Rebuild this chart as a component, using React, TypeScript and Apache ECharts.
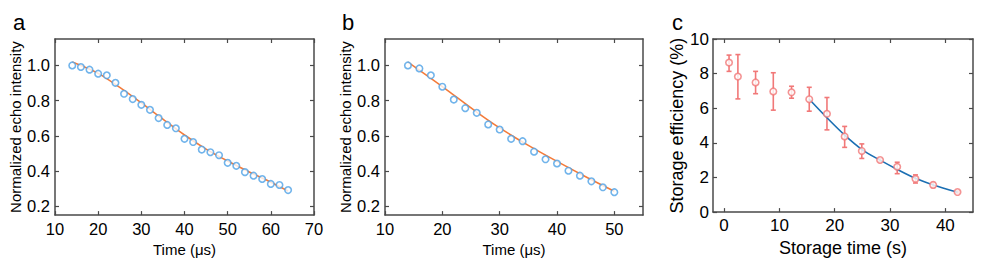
import React, { useEffect, useRef } from "react";
import * as echarts from "echarts";

// Panel a
const aTime = [14, 16, 18, 20, 22, 24, 26, 28, 30, 32, 34, 36, 38, 40, 42, 44, 46, 48, 50, 52, 54, 56, 58, 60, 62, 64];
const aEcho = [1.0, 0.991, 0.976, 0.953, 0.944, 0.901, 0.839, 0.809, 0.776, 0.748, 0.701, 0.662, 0.643, 0.583, 0.565, 0.522, 0.507, 0.49, 0.447, 0.43, 0.394, 0.374, 0.355, 0.327, 0.321, 0.292];
const aFitTime = [14, 20, 25, 30, 35, 40, 45, 50, 55, 60, 64];
const aFit = [1.019, 0.955, 0.875, 0.787, 0.695, 0.605, 0.525, 0.457, 0.395, 0.337, 0.287];

// Panel b
const bTime = [14, 16, 18, 20, 22, 24, 26, 28, 30, 32, 34, 36, 38, 40, 42, 44, 46, 48, 50];
const bEcho = [1.0, 0.983, 0.944, 0.879, 0.806, 0.757, 0.731, 0.665, 0.636, 0.583, 0.57, 0.51, 0.467, 0.443, 0.402, 0.374, 0.342, 0.308, 0.28];
const bFitTime = [14, 20, 26, 30, 35, 40, 45, 50];
const bFit = [1.019, 0.88, 0.735, 0.645, 0.546, 0.455, 0.368, 0.285];

// Panel c
const cTime = [0.9, 2.5, 5.7, 8.9, 12.2, 15.4, 18.6, 21.8, 24.9, 28.2, 31.3, 34.6, 37.8, 42.2];
const cEff = [8.64, 7.83, 7.49, 6.97, 6.92, 6.52, 5.68, 4.37, 3.53, 3.01, 2.62, 1.92, 1.57, 1.16];
const cErrLow = [8.13, 6.54, 6.84, 5.89, 6.58, 5.83, 4.75, 3.74, 3.1, 2.93, 2.22, 1.68, 1.42, 1.1];
const cErrHigh = [9.07, 9.1, 8.13, 8.05, 7.27, 7.21, 6.62, 4.95, 3.94, 3.09, 2.88, 2.15, 1.71, 1.22];
const cFitTime = [15.4, 18.6, 21.8, 25.0, 28.2, 31.4, 34.6, 37.8, 42.2];
const cFit = [6.52, 5.45, 4.45, 3.6, 3.0, 2.45, 1.95, 1.57, 1.15];

// Ticks
const echoTicks = [0.2, 0.4, 0.6, 0.8, 1.0];
const aTimeTicks = [10, 20, 30, 40, 50, 60, 70];
const bTimeTicks = [10, 20, 30, 40, 50];
const cTimeTicks = [0, 10, 20, 30, 40];
const cEffTicks = [0, 2, 4, 6, 8, 10];

const FONT = "'Liberation Sans', Arial, sans-serif";
const AXIS_COLOR = "#4a4a4a";
const BLUE_PT = "#4ea1e6";
const ORANGE = "#f47b3a";
const RED = "#f17878";
const BLUE_LINE = "#1b6fb3";

function axisPair(kind: "x" | "y", grid: number, min: number, max: number, ticks: number[], opts: any) {
  const line = { show: true, onZero: false, lineStyle: { color: AXIS_COLOR, width: 1.5 } };
  const tick = { show: true, inside: true, length: 4, customValues: ticks, lineStyle: { color: AXIS_COLOR, width: 1.2 } };
  const main = {
    type: "value",
    gridIndex: grid,
    min,
    max,
    position: kind === "x" ? "bottom" : "left",
    splitLine: { show: false },
    axisLine: line,
    axisTick: tick,
    axisLabel: {
      show: true,
      customValues: ticks,
      color: "#000",
      fontFamily: FONT,
      fontSize: opts.labelSize,
      margin: opts.labelMargin,
      formatter: opts.formatter,
    },
    name: opts.name,
    nameLocation: "middle",
    nameGap: opts.nameGap,
    nameTextStyle: { color: "#000", fontFamily: FONT, fontSize: opts.nameSize },
  };
  const other = {
    type: "value",
    gridIndex: grid,
    min,
    max,
    position: kind === "x" ? "top" : "right",
    splitLine: { show: false },
    axisLine: line,
    axisTick: tick,
    axisLabel: { show: false },
  };
  return [main, other];
}

export default function App() {
  const ref = useRef<HTMLDivElement>(null);
  useEffect(() => {
    if (!ref.current) return;
    const chart = echarts.init(ref.current, undefined, { renderer: "svg" });
    const fmt1 = (v: number) => v.toFixed(1);
    const fmt0 = (v: number) => String(Math.round(v));

    const xAxes = [
      ...axisPair("x", 0, 10, 70, aTimeTicks, { labelSize: 16.5, labelMargin: 5, formatter: fmt0, name: "Time (μs)", nameGap: 24, nameSize: 15 }),
      ...axisPair("x", 1, 10, 55, bTimeTicks, { labelSize: 16.5, labelMargin: 5, formatter: fmt0, name: "Time (μs)", nameGap: 24, nameSize: 15 }),
      ...axisPair("x", 2, -2, 45, cTimeTicks, { labelSize: 17, labelMargin: 5, formatter: fmt0, name: "Storage time (s)", nameGap: 24, nameSize: 18 }),
    ];
    const yAxes = [
      ...axisPair("y", 0, 0.15, 1.15, echoTicks, { labelSize: 16.5, labelMargin: 5, formatter: fmt1, name: "Normalized echo intensity", nameGap: 32, nameSize: 15 }),
      ...axisPair("y", 1, 0.15, 1.15, echoTicks, { labelSize: 16.5, labelMargin: 5, formatter: fmt1, name: "Normalized echo intensity", nameGap: 32, nameSize: 15 }),
      ...axisPair("y", 2, 0, 10, cEffTicks, { labelSize: 17, labelMargin: 4, formatter: fmt0, name: "Storage efficiency (%)", nameGap: 24, nameSize: 18 }),
    ];

    const scatterStyle = (color: string) => ({
      type: "scatter",
      symbol: "circle",
      symbolSize: 6.5,
      itemStyle: { color: "#fff", borderColor: color, borderWidth: 1.6 },
      z: 3,
    });

    const option: any = {
      animation: false,
      backgroundColor: "#fff",
      grid: [
        { left: 55, top: 39, width: 259, height: 178 },
        { left: 385, top: 39, width: 258, height: 178 },
        { left: 713, top: 39, width: 260, height: 178 },
      ],
      xAxis: xAxes,
      yAxis: yAxes,
      graphic: [
        { type: "text", left: 13, top: 11, style: { text: "a", fontSize: 22, fontFamily: FONT, fill: "#000" } },
        { type: "text", left: 342, top: 11, style: { text: "b", fontSize: 22, fontFamily: FONT, fill: "#000" } },
        { type: "text", left: 672, top: 11, style: { text: "c", fontSize: 22, fontFamily: FONT, fill: "#000" } },
      ],
      series: [
        {
          type: "line",
          xAxisIndex: 0,
          yAxisIndex: 0,
          data: aFitTime.map((t, i) => [t, aFit[i]]),
          smooth: 0.3,
          showSymbol: false,
          lineStyle: { color: ORANGE, width: 1.6 },
          z: 2,
        },
        { ...scatterStyle(BLUE_PT), xAxisIndex: 0, yAxisIndex: 0, data: aTime.map((t, i) => [t, aEcho[i]]) },
        {
          type: "line",
          xAxisIndex: 2,
          yAxisIndex: 2,
          data: bFitTime.map((t, i) => [t, bFit[i]]),
          smooth: 0.3,
          showSymbol: false,
          lineStyle: { color: ORANGE, width: 1.6 },
          z: 2,
        },
        { ...scatterStyle(BLUE_PT), xAxisIndex: 2, yAxisIndex: 2, data: bTime.map((t, i) => [t, bEcho[i]]) },
        {
          type: "custom",
          xAxisIndex: 4,
          yAxisIndex: 4,
          data: cTime.map((t, i) => [t, cErrLow[i], cErrHigh[i]]),
          encode: { x: 0, y: [1, 2] },
          renderItem: (params: any, api: any) => {
            const x = api.value(0);
            const lo = api.coord([x, api.value(1)]);
            const hi = api.coord([x, api.value(2)]);
            const hw = 2.5;
            const st = { stroke: RED, lineWidth: 1.6 };
            return {
              type: "group",
              children: [
                { type: "line", shape: { x1: lo[0], y1: lo[1], x2: hi[0], y2: hi[1] }, style: st },
                { type: "line", shape: { x1: lo[0] - hw, y1: lo[1], x2: lo[0] + hw, y2: lo[1] }, style: st },
                { type: "line", shape: { x1: hi[0] - hw, y1: hi[1], x2: hi[0] + hw, y2: hi[1] }, style: st },
              ],
            };
          },
          z: 1,
        },
        {
          type: "line",
          xAxisIndex: 4,
          yAxisIndex: 4,
          data: cFitTime.map((t, i) => [t, cFit[i]]),
          smooth: 0.3,
          showSymbol: false,
          lineStyle: { color: BLUE_LINE, width: 1.6 },
          z: 2,
        },
        { ...scatterStyle(RED), xAxisIndex: 4, yAxisIndex: 4, data: cTime.map((t, i) => [t, cEff[i]]) },
      ],
    };
    chart.setOption(option);
    return () => chart.dispose();
  }, []);
  return <div ref={ref} style={{ position: "fixed", left: 0, top: 0, width: 997, height: 262 }} />;
}
